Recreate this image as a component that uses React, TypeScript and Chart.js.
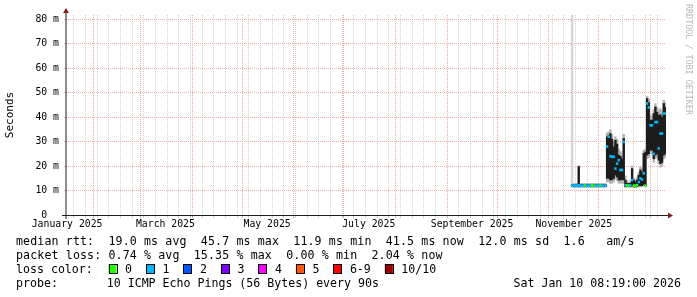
import { useEffect, useRef } from 'react';
import { Chart, registerables } from 'chart.js';

Chart.register(...registerables);

// x unit: days since 2025-01-01 00:00 (last 360 days ending Sat Jan 10 2026 08:19)
const rangeStartDay = 14.347;
const rangeEndDay = 374.347;
const firstSampleDay = 318;

// median RTT (ms) per day, from day 318 (Nov 15 2025) to day 374 (Jan 10 2026)
const medianRtt = [
  12.0, 12.1, 11.9, 12.0, 12.2, 12.0, 11.9, 12.0, 12.1, 11.9, 12.0, 12.0, 12.1, 11.9, 12.0, 12.0, 11.9, 12.1, 12.0, 11.9, 12.0,
  28.0, 32.0, 24.0, 23.8, 23.8, 19.0, 21.0, 22.4, 18.4, 18.4, 29.9,
  12.2, 12.1, 12.0, 12.1, 14.3, 12.0, 12.0, 12.2, 13.5, 15.0, 14.5, 17.0, 12.0,
  45.6, 44.0, 36.7, 36.7, 25.0, 38.0, 38.0, 27.2, 33.3, 33.3, 41.5, 41.5,
];
// dense (dark) smoke range
const smokeLow = [
  11.6, 11.6, 11.6, 11.6, 11.6, 11.6, 11.6, 11.6, 11.6, 11.6, 11.6, 11.6, 11.6, 11.6, 11.6, 11.6, 11.6, 11.6, 11.6, 11.6, 11.6,
  15.0, 15.0, 14.3, 14.5, 15.0, 16.3, 15.5, 14.3, 14.3, 14.5, 14.3,
  11.6, 11.6, 11.6, 11.6, 12.0, 11.5, 11.5, 11.6, 12.0, 12.0, 12.0, 12.5, 12.0,
  24.5, 25.0, 26.5, 26.5, 23.0, 24.5, 25.0, 22.4, 21.0, 21.5, 24.5, 25.0,
];
const smokeHigh = [
  12.4, 12.4, 12.4, 12.4, 19.8, 12.4, 12.4, 12.4, 12.4, 12.4, 12.4, 12.4, 12.4, 12.4, 12.4, 12.4, 12.4, 12.4, 12.4, 12.4, 12.4,
  32.0, 32.5, 33.3, 31.0, 27.9, 30.6, 29.0, 24.5, 24.0, 23.0, 31.3,
  14.3, 13.0, 12.8, 13.0, 19.0, 14.3, 13.5, 14.3, 16.3, 18.4, 17.5, 25.2, 25.8,
  47.6, 46.0, 38.8, 38.8, 41.5, 44.2, 42.0, 40.8, 41.0, 40.0, 45.6, 44.0,
];
// faint (light) smoke range
const haloLow = [
  11.3, 11.3, 11.3, 11.3, 11.3, 11.3, 11.3, 11.3, 11.3, 11.3, 11.3, 11.3, 11.3, 11.3, 11.3, 11.3, 11.3, 11.3, 11.3, 11.3, 11.3,
  13.5, 13.5, 13.0, 13.0, 13.5, 14.5, 14.0, 13.0, 13.0, 13.0, 13.0,
  11.3, 11.3, 11.3, 11.3, 11.5, 11.3, 11.3, 11.3, 11.5, 11.5, 11.5, 12.0, 11.5,
  23.0, 23.5, 25.0, 25.0, 21.5, 23.0, 23.5, 21.0, 19.5, 20.0, 23.0, 23.5,
];
const haloHigh = [
  81.8, 12.9, 12.9, 12.9, 20.2, 12.9, 12.9, 12.9, 12.9, 12.9, 12.9, 12.9, 12.9, 12.9, 12.9, 12.9, 12.9, 12.9, 12.9, 12.9, 12.9,
  33.5, 34.0, 35.0, 33.0, 30.0, 32.0, 31.0, 27.0, 26.0, 25.0, 33.0,
  16.0, 14.0, 13.5, 14.0, 20.0, 15.0, 14.5, 15.5, 17.5, 19.5, 19.0, 26.5, 27.0,
  48.5, 47.5, 41.0, 40.5, 43.0, 45.5, 44.0, 43.0, 43.5, 42.5, 47.0, 46.0,
];
// lost pings (of 10) per sample
const lostPings = [
  1, 1, 1, 1, 1, 1, 1, 1, 0, 1, 1, 1, 0, 0, 1, 1, 1, 0, 1, 1, 1,
  1, 1, 1, 1, 1, 1, 1, 1, 1, 1, 1,
  1, 0, 0, 1, 1, 0, 0, 0, 1, 1, 1, 1, 0,
  1, 1, 1, 1, 1, 1, 1, 1, 1, 1, 1, 1,
];

const monthStartDays = [0, 31, 59, 90, 120, 151, 181, 212, 243, 273, 304, 334, 365];
const monthLabelDays = [15, 74, 135, 196, 258, 319];
const monthLabelTexts = ['January 2025', 'March 2025', 'May 2025', 'July 2025', 'September 2025', 'November 2025'];
const firstMondayDay = 19;

const yMaxMs = 81.8;
const yTickValues = [0, 5, 10, 15, 20, 25, 30, 35, 40, 45, 50, 55, 60, 65, 70, 75, 80];

const lossLabels = ['0', '1', '2', '3', '4', '5', '6-9', '10/10'];
const lossColors = ['#26ff00', '#00b8ff', '#0059ff', '#7e00ff', '#ff00ff', '#ff5500', '#ff0000', '#a10000'];

const statRtt = 'median rtt:  19.0 ms avg  45.7 ms max  11.9 ms min  41.5 ms now  12.0 ms sd  1.6   am/s';
const statLoss = 'packet loss: 0.74 % avg  15.35 % max  0.00 % min  2.04 % now';
const lossTitle = 'loss color:';
const probeTitle = 'probe:';
const probeText = '10 ICMP Echo Pings (56 Bytes) every 90s';
const stampText = 'Sat Jan 10 08:19:00 2026';
const watermarkText = 'RRDTOOL / TOBI OETIKER';
const yTitle = 'Seconds';

const MONO = '"DejaVu Sans Mono", monospace';
const GRID_MINOR = '#d0d0d0';
const GRID_MAJOR = '#f0abab';

function lossColorFor(n: number) {
  const idx = n <= 5 ? n : n < 10 ? 6 : 7;
  return lossColors[idx];
}

const overlayPlugin = {
  id: 'rrdOverlay',
  afterDraw(chart: any) {
    const { ctx, chartArea: a } = chart;
    ctx.save();
    // axes
    ctx.lineWidth = 1;
    ctx.strokeStyle = '#1f1f1f';
    const yb = Math.round(a.bottom) + 0.5;
    ctx.beginPath();
    ctx.moveTo(a.left - 4, yb);
    ctx.lineTo(a.right + 4, yb);
    ctx.stroke();
    ctx.beginPath();
    ctx.moveTo(a.left, a.bottom + 4);
    ctx.lineTo(a.left, a.top - 4);
    ctx.stroke();
    // arrows
    ctx.fillStyle = '#801f1f';
    ctx.beginPath();
    ctx.moveTo(a.right + 2, yb - 3);
    ctx.lineTo(a.right + 2, yb + 3);
    ctx.lineTo(a.right + 7, yb);
    ctx.closePath();
    ctx.fill();
    ctx.beginPath();
    ctx.moveTo(a.left - 3, a.top - 2);
    ctx.lineTo(a.left + 3, a.top - 2);
    ctx.lineTo(a.left, a.top - 7);
    ctx.closePath();
    ctx.fill();

    // legend / stats
    ctx.font = '11.6px ' + MONO;
    ctx.fillStyle = '#000';
    ctx.textAlign = 'left';
    ctx.textBaseline = 'alphabetic';
    const x0 = 16;
    ctx.letterSpacing = '0.13px';
    ctx.fillText(statRtt, x0, 245);
    ctx.fillText(statLoss, x0, 259);
    ctx.letterSpacing = '0px';
    ctx.fillText(lossTitle, x0, 273);
    let cx = 108.5;
    for (let i = 0; i < lossLabels.length; i++) {
      ctx.fillStyle = lossColors[i];
      ctx.fillRect(cx, 264, 8, 9);
      ctx.strokeStyle = '#000';
      ctx.lineWidth = 1;
      ctx.strokeRect(Math.round(cx) + 0.5, 264.5, 8, 9);
      ctx.fillStyle = '#000';
      ctx.fillText(lossLabels[i], cx + 16.5, 273);
      cx += 16.5 + ctx.measureText(lossLabels[i]).width + 14;
    }
    ctx.fillText(probeTitle.padEnd(13, ' ') + probeText, x0, 287);
    ctx.textAlign = 'right';
    ctx.fillText(stampText, 681, 287);

    // watermark
    ctx.translate(688.5, 4);
    ctx.rotate(Math.PI / 2);
    ctx.font = '8.4px ' + MONO;
    ctx.fillStyle = '#b8b8b8';
    ctx.textAlign = 'left';
    ctx.textBaseline = 'middle';
    ctx.fillText(watermarkText, 0, 0);
    ctx.restore();
  },
};

export default function App() {
  const canvasRef = useRef<HTMLCanvasElement | null>(null);

  useEffect(() => {
    const canvas = canvasRef.current;
    if (!canvas) return;

    const days = medianRtt.map((_, i) => firstSampleDay + i);

    const xKinds = new Map<number, string>();
    const xLabels = new Map<number, string>();
    monthStartDays.forEach((d) => {
      if (d >= rangeStartDay && d <= rangeEndDay) xKinds.set(d, 'major');
    });
    for (let d = firstMondayDay; d <= rangeEndDay; d += 7) {
      if (d >= rangeStartDay && !xKinds.has(d)) xKinds.set(d, 'minor');
    }
    monthLabelDays.forEach((d, i) => {
      if (!xKinds.has(d)) xKinds.set(d, 'label');
      xLabels.set(d, monthLabelTexts[i]);
    });
    const xTickValues = Array.from(xKinds.keys()).sort((p, q) => p - q);

    const xGridColor = (ctx: any) => {
      const k = ctx.tick ? xKinds.get(ctx.tick.value) : undefined;
      if (k === 'major') return GRID_MAJOR;
      if (k === 'minor') return GRID_MINOR;
      return 'rgba(0,0,0,0)';
    };
    const yGridColor = (ctx: any) => {
      const v = ctx.tick ? ctx.tick.value : 0;
      if (v === 0) return 'rgba(0,0,0,0)';
      return v % 10 === 0 ? GRID_MAJOR : GRID_MINOR;
    };

    const common = {
      grouped: false,
      categoryPercentage: 1,
      barPercentage: 1,
      borderWidth: 0,
    };

    const chart = new Chart(canvas, {
      type: 'bar',
      data: {
        datasets: [
          {
            ...common,
            label: 'median rtt',
            order: 0,
            data: days.map((d, i) => ({ x: d, y: [medianRtt[i] - 0.4, medianRtt[i] + 0.4] })),
            backgroundColor: lostPings.map(lossColorFor),
          },
          {
            ...common,
            label: 'smoke',
            order: 1,
            data: days.map((d, i) => ({ x: d, y: [smokeLow[i], smokeHigh[i]] })),
            backgroundColor: '#1c1c1c',
          },
          {
            ...common,
            label: 'smoke halo',
            order: 2,
            data: days.map((d, i) => ({ x: d, y: [haloLow[i], haloHigh[i]] })),
            backgroundColor: days.map((_, i) => (i === 0 ? '#d4d4d4' : '#b4b4b4')),
          },
        ],
      } as any,
      options: {
        responsive: false,
        maintainAspectRatio: false,
        animation: false,
        devicePixelRatio: 1,
        layout: { padding: { left: 0, right: 31, top: 15, bottom: 62 } },
        plugins: { legend: { display: false }, tooltip: { enabled: false }, title: { display: false } },
        scales: {
          x: {
            type: 'linear',
            min: rangeStartDay,
            max: rangeEndDay,
            offset: false,
            afterBuildTicks: (s: any) => {
              s.ticks = xTickValues.map((v) => ({ value: v }));
            },
            afterFit: (s: any) => {
              s.height = 20;
            },
            ticks: {
              autoSkip: false,
              maxRotation: 0,
              minRotation: 0,
              padding: 1,
              color: '#000',
              font: { family: MONO, size: 9.8 },
              callback: (v: any) => xLabels.get(v) ?? '',
            },
            grid: {
              offset: false,
              color: xGridColor,
              tickColor: xGridColor,
              lineWidth: 1,
              drawTicks: true,
              tickLength: 3,
            },
            border: { display: false, dash: [1, 1] },
          },
          y: {
            type: 'linear',
            min: 0,
            max: yMaxMs,
            afterBuildTicks: (s: any) => {
              s.ticks = yTickValues.map((v) => ({ value: v }));
            },
            afterFit: (s: any) => {
              s.width = 66;
            },
            ticks: {
              padding: 5,
              color: '#000',
              font: { family: MONO, size: 9.8 },
              callback: (v: any) => (v === 0 ? '0  ' : v % 10 === 0 ? `${v} m` : ''),
            },
            grid: {
              color: yGridColor,
              tickColor: yGridColor,
              lineWidth: 1,
              drawTicks: true,
              tickLength: 2,
            },
            border: { display: false, dash: [1, 1] },
            title: {
              display: true,
              text: yTitle,
              color: '#000',
              font: { family: MONO, size: 11 },
              padding: { top: 4, bottom: 0 },
            },
          },
        },
      } as any,
      plugins: [overlayPlugin],
    });

    return () => chart.destroy();
  }, []);

  return (
    <div style={{ position: 'absolute', left: 0, top: 0, width: 697, height: 297, background: '#fff' }}>
      <canvas ref={canvasRef} width={697} height={297} style={{ width: 697, height: 297, display: 'block' }} />
    </div>
  );
}
